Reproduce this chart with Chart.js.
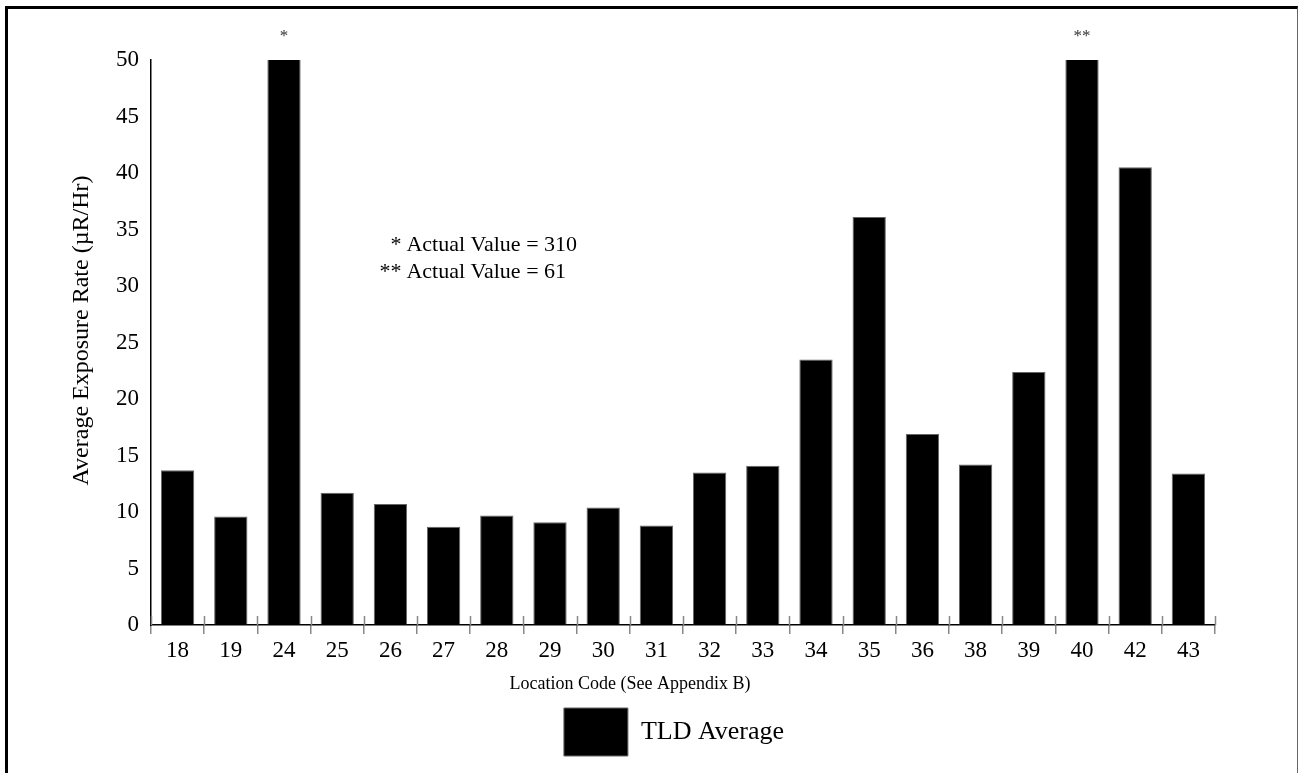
<!DOCTYPE html>
<html>
<head>
<meta charset="utf-8">
<script src="https://cdn.jsdelivr.net/npm/chart.js@4"></script>
<style>
html,body{margin:0;padding:0;background:#fff;overflow:hidden;}
#wrap{position:absolute;left:0;top:0;width:1299px;height:773px;}
#frame{position:absolute;left:5px;top:6px;width:1293px;height:820px;box-sizing:border-box;border-left:3px solid #000;border-top:3px solid #000;border-right:1px solid #666;pointer-events:none;}
</style>
</head>
<body>
<div id="wrap"><canvas id="c" width="1299" height="773"></canvas></div>
<div id="frame"></div>
<script>
// ---- data ----
const categories = ['18','19','24','25','26','27','28','29','30','31','32','33','34','35','36','38','39','40','42','43'];
const tldAverage = [13.7, 9.6, 310, 11.7, 10.7, 8.7, 9.7, 9.1, 10.4, 8.8, 13.5, 14.1, 23.5, 36.1, 16.9, 14.2, 22.4, 61, 40.5, 13.4];
const seriesName = 'TLD Average';
const yMin = 0;
const yMax = 50;
const yStep = 5;
const xTitle = 'Location Code (See Appendix B)';
const yTitle = 'Average Exposure Rate (\u00B5R/Hr)';
const markerIndex = [2, 17];
const markerText = ['*', '**'];
const noteMarks = ['*', '**'];
const noteTexts = ['Actual Value = 310', 'Actual Value = 61'];
const noteLevels = [33.6, 31.2];

const FONT = "'Liberation Serif','Times New Roman',serif";

const annotationPlugin = {
  id: 'annotations',
  afterLayout(chart) {
    const lg = chart.legend;
    if (lg) { lg.left += 34; lg.right += 34; }
  },
  afterDraw(chart) {
    const {ctx, chartArea, scales} = chart;
    const xs = scales.x, ys = scales.y;
    ctx.save();
    // tick marks crossing the x axis (upper half)
    ctx.strokeStyle = '#888';
    ctx.lineWidth = 1.5;
    ctx.beginPath();
    for (let i = 0; i <= categories.length; i++) {
      const px = Math.round(xs.getPixelForValue(i - 0.5)) + 0.5;
      ctx.moveTo(px, chartArea.bottom - 9);
      ctx.lineTo(px, chartArea.bottom);
    }
    ctx.stroke();
    // axis titles
    ctx.fillStyle = '#000';
    ctx.textAlign = 'center';
    ctx.textBaseline = 'middle';
    ctx.font = '18px ' + FONT;
    ctx.fillText(xTitle, (xs.left + xs.right) / 2 - 53, xs.bottom - 14);
    ctx.save();
    ctx.translate(82, (ys.top + ys.bottom) / 2 - 12);
    ctx.rotate(-Math.PI / 2);
    ctx.font = '24px ' + FONT;
    ctx.fillText(yTitle, 0, 0);
    ctx.restore();
    // markers above capped bars
    ctx.fillStyle = '#333';
    ctx.font = '17px ' + FONT;
    markerIndex.forEach((idx, k) => {
      ctx.fillText(markerText[k], xs.getPixelForValue(idx), chartArea.top - 23);
    });
    // notes
    ctx.fillStyle = '#000';
    ctx.font = '22px ' + FONT;
    const ax = xs.getPixelForValue(4) + 16;
    noteTexts.forEach((t, k) => {
      const py = ys.getPixelForValue(noteLevels[k]);
      ctx.textAlign = 'right';
      ctx.fillText(noteMarks[k], ax - 5, py);
      ctx.textAlign = 'left';
      ctx.fillText(t, ax, py);
    });
    ctx.restore();
  }
};

new Chart(document.getElementById('c'), {
  type: 'bar',
  data: {
    labels: categories,
    datasets: [{
      label: seriesName,
      data: tldAverage,
      backgroundColor: '#000',
      borderColor: '#666',
      borderWidth: 1,
      categoryPercentage: 1,
      barPercentage: 0.626
    }]
  },
  options: {
    responsive: false,
    devicePixelRatio: 1,
    animation: false,
    events: [],
    layout: {padding: {left: 65, right: 84, top: 60, bottom: 7}},
    plugins: {
      tooltip: {enabled: false},
      legend: {
        display: true,
        position: 'bottom',
        labels: {
          boxWidth: 64,
          boxHeight: 48,
          padding: 10,
          color: '#000',
          font: {family: FONT, size: 26}
        }
      }
    },
    scales: {
      x: {
        afterFit(s) { s.height = 73; },
        grid: {display: true, drawOnChartArea: false, drawTicks: true, tickLength: 9, offset: true, color: '#888', lineWidth: 1.5},
        border: {display: true, color: '#000', width: 1.5},
        ticks: {color: '#000', padding: 3, font: {family: FONT, size: 23}, maxRotation: 0},
        title: {display: false}
      },
      y: {
        min: yMin,
        max: yMax,
        afterFit(s) { s.width = 86; },
        grid: {display: true, drawOnChartArea: false, drawTicks: false},
        border: {display: true, color: '#000', width: 1.5},
        ticks: {stepSize: yStep, color: '#000', padding: 12, font: {family: FONT, size: 23}},
        title: {display: false}
      }
    }
  },
  plugins: [annotationPlugin]
});
</script>
</body>
</html>
